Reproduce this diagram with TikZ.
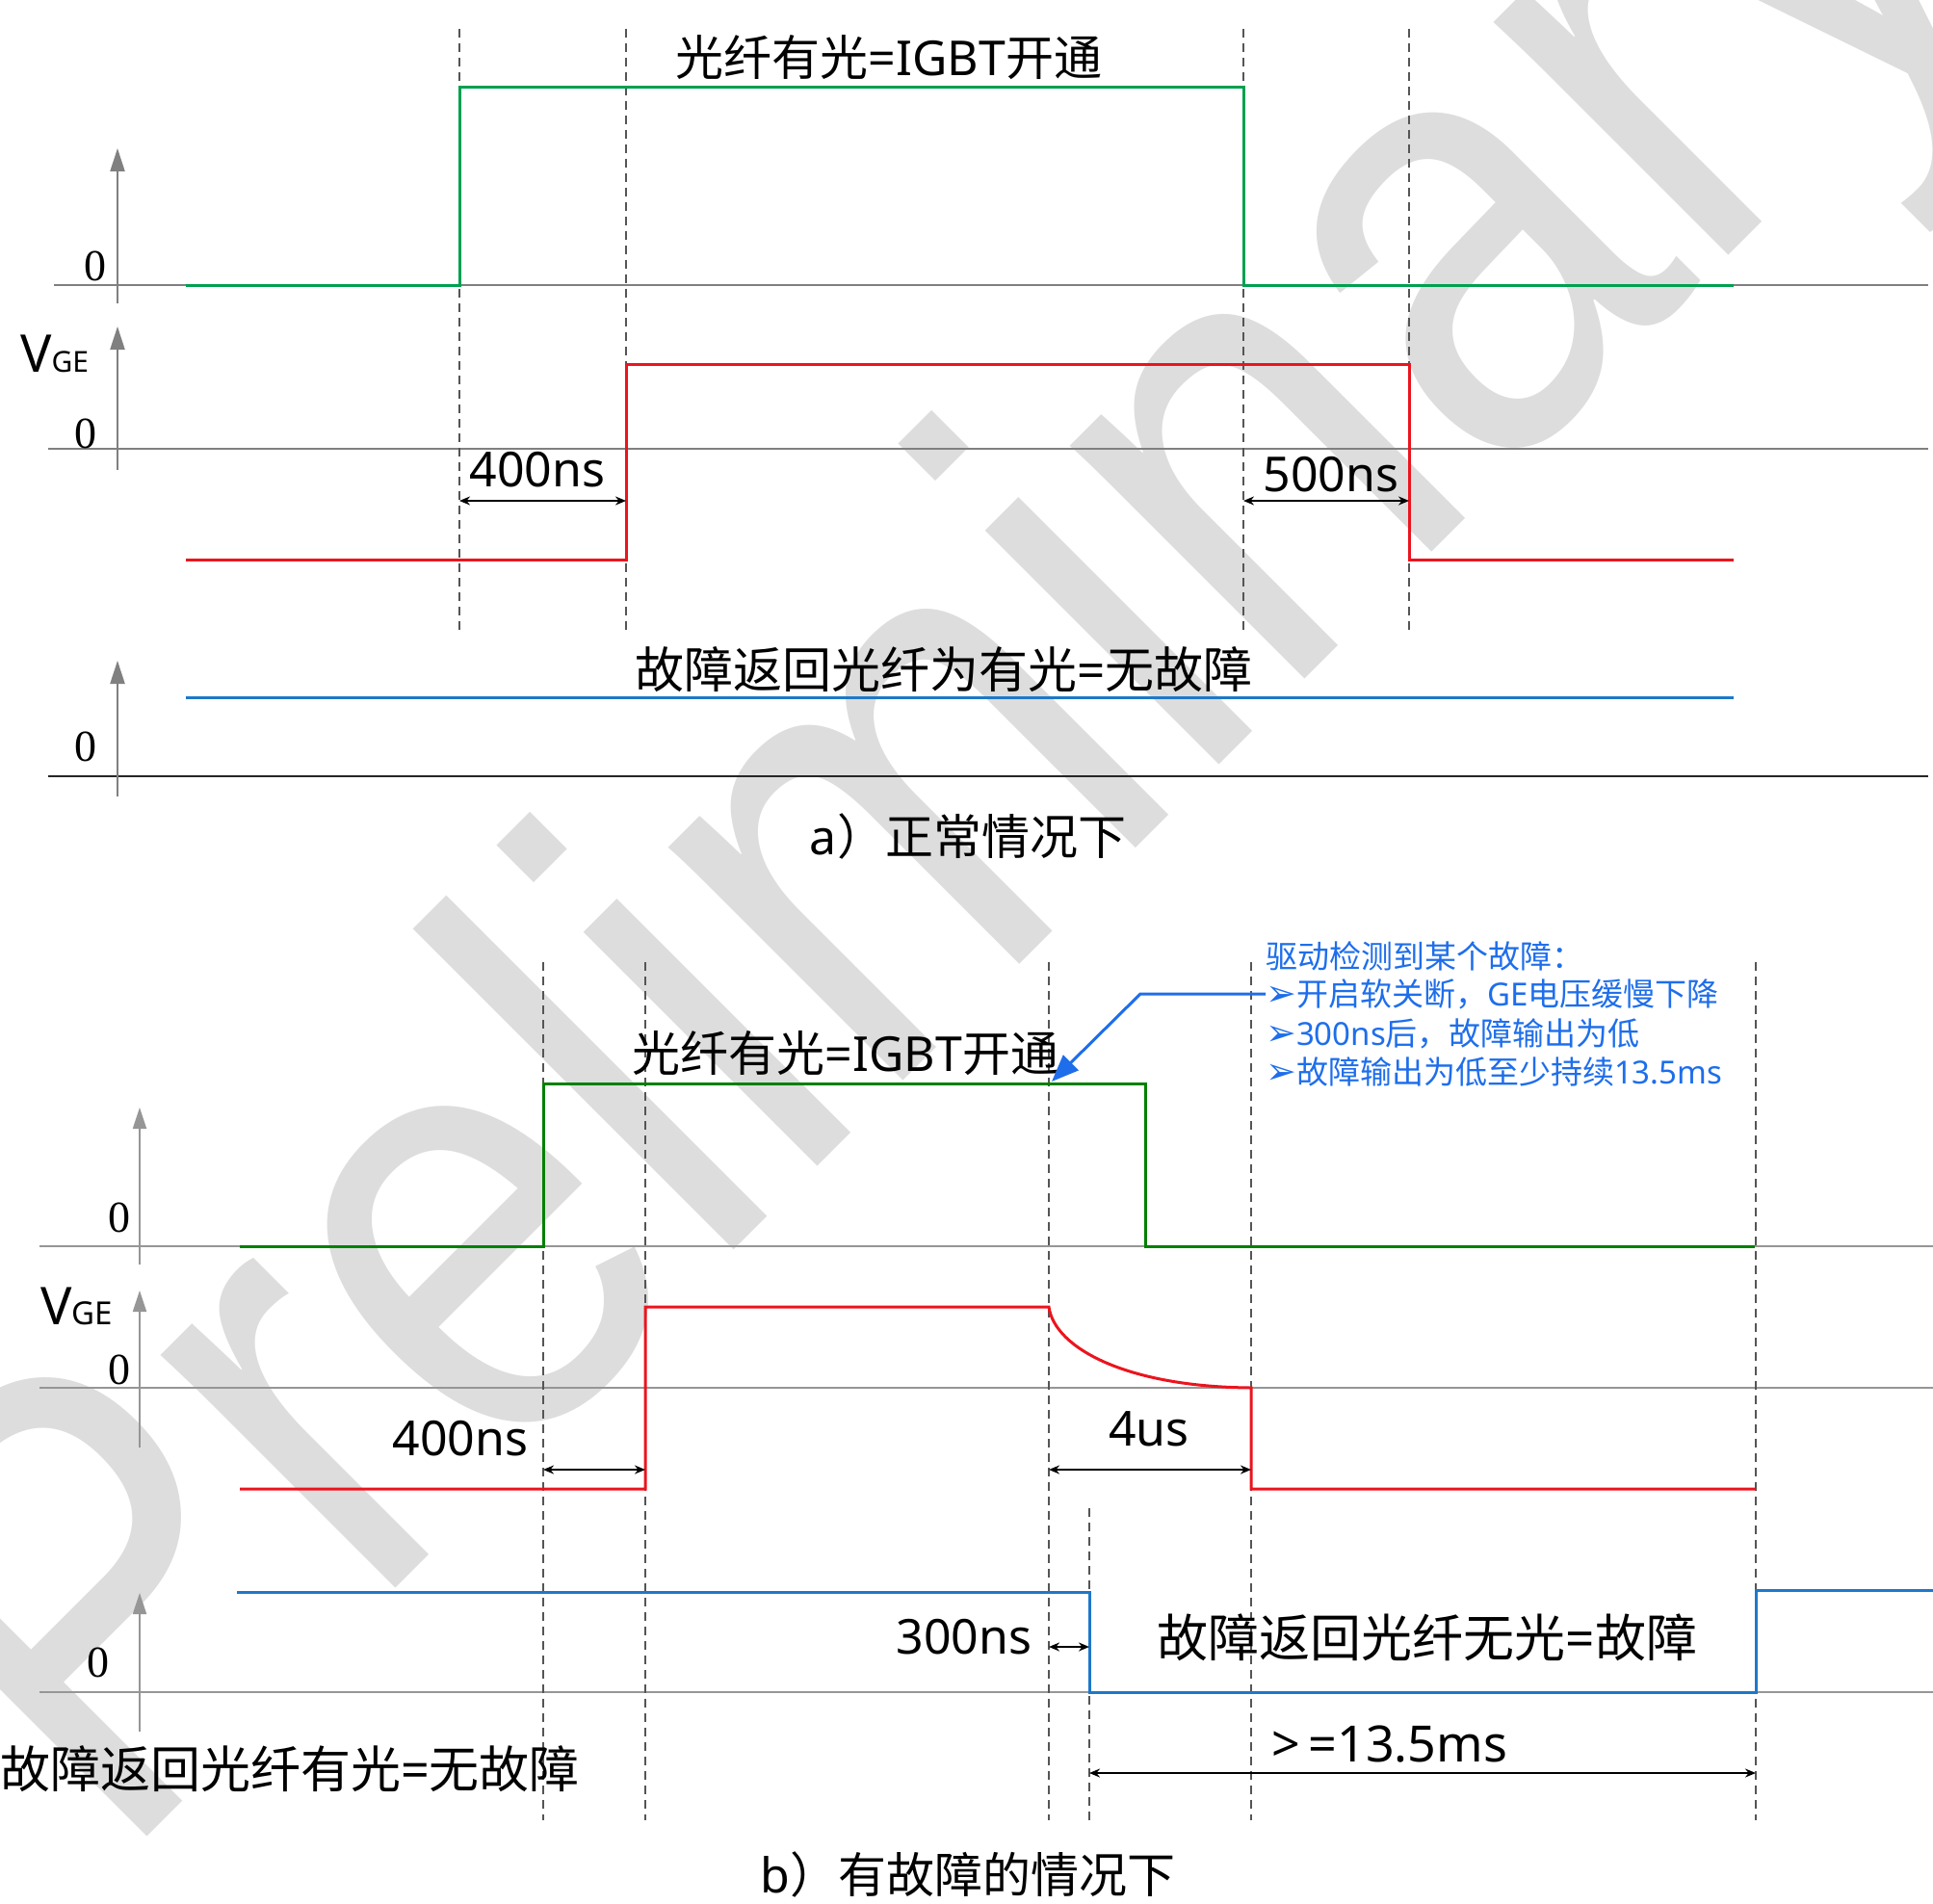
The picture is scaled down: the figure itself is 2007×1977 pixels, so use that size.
\documentclass[tikz,border=0pt]{standalone}
\usepackage{fontspec}
\setmainfont{Noto Sans}
\newfontfamily\cjk{Noto Sans CJK SC}
\newfontfamily\serifz{Liberation Serif}
\newfontfamily\wmfont[FakeStretch=0.86]{Liberation Sans}
\newfontfamily\dvs{DejaVu Sans}
\usetikzlibrary{arrows.meta}
\newcommand{\zh}[1]{{\cjk #1}}
\newcommand{\bul}{{\dvs\fontsize{38}{40}\selectfont ➢}}
\definecolor{axgray}{RGB}{128,128,128}
\definecolor{axgrayb}{RGB}{150,150,150}
\definecolor{dashgray}{RGB}{85,85,85}
\definecolor{gtop}{RGB}{0,160,80}
\definecolor{gbot}{RGB}{0,128,0}
\definecolor{wred}{RGB}{235,20,30}
\definecolor{wblue}{RGB}{30,120,200}
\definecolor{annblue}{RGB}{30,110,235}
\definecolor{wmgray}{RGB}{221,221,221}
\tikzset{
 lbl/.style={inner sep=0pt, font=\fontsize{50}{60}\selectfont},
 zerolbl/.style={inner sep=0pt, font=\serifz\fontsize{46}{50}\selectfont},
 annlbl/.style={inner sep=0pt, anchor=west, text=annblue, font=\fontsize{33}{40}\selectfont},
 wave/.style={line width=3pt, line join=miter},
 haxisA/.style={draw=axgray, line width=2.4pt},
 haxisB/.style={draw=axgrayb, line width=1.8pt},
 vaxisA/.style={-{Triangle[length=24pt,width=15pt]}, line width=2.2pt, draw=axgray},
 vaxisB/.style={-{Triangle[length=22pt,width=14pt]}, line width=1.8pt, draw=axgrayb},
 guide/.style={dash pattern=on 9pt off 6pt, line width=1.6pt, draw=dashgray},
 dim/.style={{Stealth[length=11pt,width=9pt]}-{Stealth[length=11pt,width=9pt]}, line width=2pt, draw=black},
 annarrow/.style={-{Triangle[length=28pt,width=22pt]}, line width=3pt, draw=annblue},
}
\begin{document}
\begin{tikzpicture}[x=1pt,y=-1pt]
\useasboundingbox (0,0) rectangle (2007,1977);
\clip (0,0) rectangle (2007,1977);
% watermark
\node[rotate=45, anchor=base west, inner sep=0pt, text=wmgray, font=\wmfont\fontsize{650}{680}\selectfont] (wm) at (120,1940) {Preliminary};

% ===== panel a =====
\draw[haxisA] (56,296) -- (2002,296);
\draw[haxisA] (50,466) -- (2002,466);
\draw[draw=black!85, line width=2.2pt] (50,806) -- (2002,806);
\draw[vaxisA] (122,315) -- (122,154);
\draw[vaxisA] (122,488) -- (122,339);
\draw[vaxisA] (122,827) -- (122,686);
\foreach \x in {477,650,1291,1463} \draw[guide] (\x,30) -- (\x,659);
\draw[wave, gtop] (193,296) -- (477,296) -- (477,91) -- (1291,91) -- (1291,296) -- (1800,296);
\draw[wave, wred] (193,581) -- (650,581) -- (650,378) -- (1463,378) -- (1463,581) -- (1800,581);
\draw[wave, wblue] (193,724) -- (1800,724);
\draw[dim] (477,520) -- (650,520);
\draw[dim] (1291,520) -- (1463,520);
\node[zerolbl] (z1) at (99,276) {0};
\node[zerolbl] (z2) at (89,450) {0};
\node[zerolbl] (z3) at (89,775) {0};
\node[anchor=base west, inner sep=0pt, font=\fontsize{54}{60}\selectfont] (vge1) at (21,386) {V{\fontsize{30}{30}\selectfont GE}};
\node[lbl] (ta) at (923,60) {\zh{光纤有光}=IGBT\zh{开通}};
\node[lbl] (d400a) at (558,488) {400ns};
\node[lbl] (d500a) at (1382,493) {500ns};
\node[lbl, font=\fontsize{51}{60}\selectfont] (fa) at (980,695) {\zh{故障返回光纤为有光}=\zh{无故障}};
\node[lbl] (capa) at (1005,868) {a\zh{）正常情况下}};

% ===== panel b =====
\draw[haxisB] (41,1294) -- (2007,1294);
\draw[haxisB] (41,1441) -- (2007,1441);
\draw[haxisB] (41,1757) -- (2007,1757);
\draw[vaxisB] (145,1313) -- (145,1150);
\draw[vaxisB] (145,1503) -- (145,1340);
\draw[vaxisB] (145,1798) -- (145,1654);
\foreach \x in {564,670,1089,1299,1823} \draw[guide] (\x,999) -- (\x,1890);
\draw[guide] (1131,1566) -- (1131,1893);
\draw[wave, gbot] (249,1294) -- (564,1294) -- (564,1125) -- (1189,1125) -- (1189,1294) -- (1822,1294);
\draw[wave, wred] (249,1546) -- (670,1546) -- (670,1357) -- (1089,1357)
   .. controls (1095,1400) and (1170,1440) .. (1299,1441) -- (1299,1546) -- (1823,1546);
\draw[wave, wblue] (246,1653) -- (1131,1653) -- (1131,1757) -- (1823,1757) -- (1823,1651) -- (2007,1651);
\draw[dim] (564,1526) -- (670,1526);
\draw[dim] (1089,1526) -- (1299,1526);
\draw[dim] (1089,1710) -- (1131,1710);
\draw[dim] (1131,1841) -- (1823,1841);
\node[zerolbl] (z4) at (124,1264) {0};
\node[zerolbl] (z5) at (124,1422) {0};
\node[zerolbl] (z6) at (102,1726) {0};
\node[anchor=base west, inner sep=0pt, font=\fontsize{54}{60}\selectfont] (vge2) at (42,1375) {V{\fontsize{33}{33}\selectfont GE}};
\node[lbl] (tb) at (878,1094) {\zh{光纤有光}=IGBT\zh{开通}};
\node[lbl] (d400b) at (478,1494) {400ns};
\node[lbl] (d4us) at (1193,1484) {4us};
\node[lbl] (d300) at (1001,1700) {300ns};
\node[lbl, font=\fontsize{53}{60}\selectfont] (fb1) at (1482,1700) {\zh{故障返回光纤无光}=\zh{故障}};
\node[lbl, font=\fontsize{52}{60}\selectfont] (d135) at (1443,1811) {>\hspace{8pt}=13.5ms};
\node[lbl, anchor=east, font=\fontsize{52}{60}\selectfont] (fb2) at (602,1837) {\zh{故障返回光纤有光}=\zh{无故障}};
\node[lbl] (capb) at (1005,1946) {b\zh{）有故障的情况下}};

% annotation
\node[annlbl] (n1) at (1314,993) {\zh{驱动检测到某个故障：}};
\node[annlbl] (n2) at (1314,1032) {\bul\zh{开启软关断，}GE\zh{电压缓慢下降}};
\node[annlbl] (n3) at (1314,1073) {\bul 300ns\zh{后，故障输出为低}};
\node[annlbl] (n4) at (1314,1113) {\bul\zh{故障输出为低至少持续}13.5ms};
\coordinate (tipC) at (1092,1123);
\draw[annarrow] (n2.west) -- ++(-130,0) -- (tipC);
\end{tikzpicture}
\end{document}
